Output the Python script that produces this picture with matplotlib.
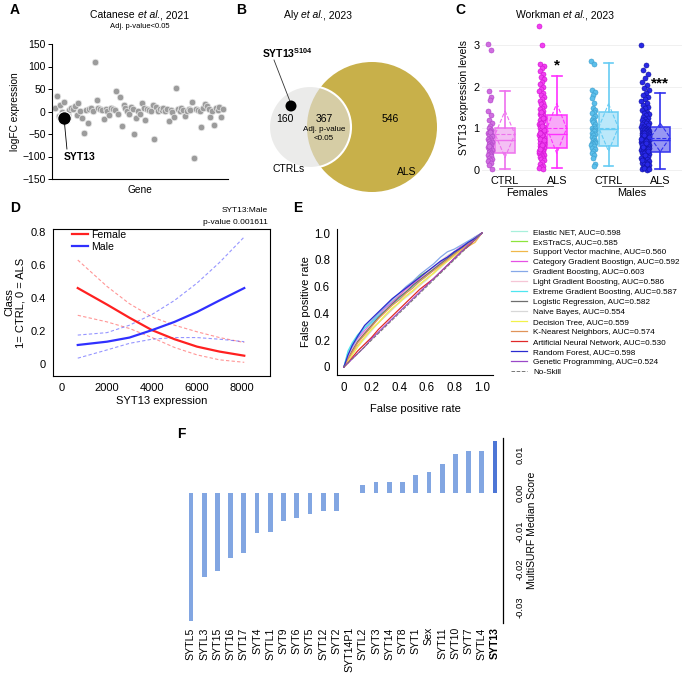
import numpy as np
import matplotlib
matplotlib.use('Agg')
import matplotlib.pyplot as plt
from matplotlib.patches import Circle
from matplotlib.lines import Line2D

plt.rcParams['font.family'] = ['Liberation Sans', 'DejaVu Sans']
plt.rcParams['mathtext.fontset'] = 'custom'
plt.rcParams['mathtext.rm'] = 'Liberation Sans'
plt.rcParams['mathtext.it'] = 'Liberation Sans:italic'
plt.rcParams['mathtext.bf'] = 'Liberation Sans:bold'

# ---------------- DATA ----------------
# Panel A: logFC per gene (Catanese et al.)
a_logfc = [7, 35, -10, 15, 0, 22, -5, -8, 3, 8, 5, 12, -8, 18, 2, -15, -48, 3, -25, 5,
           8, 2, 110, 25, 8, 5, 3, -17, 5, 2, -8, 8, 5, 3, 45, -5, 33, -32, 15, 8,
           2, -5, 10, 5, -49, -15, 2, -5, 20, 8, -18, 5, 3, 2, 15, -60, 10, 2, 5, 3,
           8, 2, 5, -20, 3, 0, -12, 52, 5, 2, 8, 3, -10, 2, 5, 3, 22, -104, 5, 3,
           2, -35, 8, 17, 12, 5, -12, 2, -31, 8, 3, 10, -12, 5]
a_syt13_idx = 5
a_syt13_val = -15

# Panel B: Venn counts (CTRL only, shared, ALS only)
venn_counts = [160, 367, 546]
venn_labels = ['CTRLs', 'ALS']

# Panel C: SYT13 expression levels
c_groups = ['CTRL', 'ALS', 'CTRL', 'ALS']
c_f_ctrl = [3.02, 2.87, 1.89, 1.76, 1.69, 1.41, 1.33, 1.21, 1.12, 1.05, 1.0, 0.97, 0.93, 0.9,
            0.87, 0.84, 0.81, 0.78, 0.75, 0.73, 0.7, 0.67, 0.65, 0.62, 0.6, 0.57, 0.55, 0.52,
            0.5, 0.48, 0.46, 0.43, 0.41, 0.39, 0.36, 0.33, 0.3, 0.27, 0.24, 0.21, 0.18, 0.13,
            0.03, 0.92, 0.58]
c_f_als = [3.45, 3.0, 2.55, 2.5, 2.45, 2.38, 2.3, 2.24, 2.18, 2.12, 2.06, 2.0, 1.95, 1.9, 1.85,
           1.8, 1.76, 1.71, 1.66, 1.62, 1.58, 1.54, 1.5, 1.46, 1.42, 1.38, 1.35, 1.32, 1.29,
           1.26, 1.23, 1.2, 1.17, 1.14, 1.11, 1.08, 1.06, 1.04, 1.02, 1.0, 0.98, 0.96, 0.94,
           0.92, 0.9, 0.88, 0.86, 0.84, 0.82, 0.8, 0.78, 0.76, 0.74, 0.72, 0.7, 0.68, 0.66,
           0.64, 0.62, 0.6, 0.58, 0.56, 0.54, 0.52, 0.5, 0.48, 0.46, 0.44, 0.42, 0.4, 0.38,
           0.36, 0.34, 0.32, 0.3, 0.27, 0.24, 0.2, 0.15, 0.1, 0.07, 0.05, 0.03, 1.12, 0.95,
           0.85, 0.75, 0.65, 0.55, 0.45, 1.05, 0.88, 0.71, 0.6, 0.5, 1.25, 1.4]
c_m_ctrl = [2.62, 2.55, 1.93, 1.87, 1.8, 1.72, 1.62, 1.5, 1.45, 1.4, 1.36, 1.3, 1.25, 1.2, 1.18,
            1.15, 1.1, 1.05, 1.02, 1.0, 0.97, 0.95, 0.93, 0.9, 0.87, 0.84, 0.8, 0.76, 0.72,
            0.7, 0.68, 0.66, 0.65, 0.62, 0.6, 0.57, 0.54, 0.5, 0.45, 0.4, 0.35, 0.3, 0.14, 0.1]
c_m_als = [3.0, 2.52, 2.4, 2.3, 2.2, 2.12, 2.05, 1.98, 1.92, 1.86, 1.8, 1.75, 1.7, 1.65, 1.6,
           1.56, 1.52, 1.48, 1.44, 1.4, 1.37, 1.34, 1.31, 1.28, 1.25, 1.22, 1.2, 1.18, 1.16,
           1.14, 1.12, 1.1, 1.08, 1.06, 1.04, 1.02, 1.0, 0.99, 0.98, 0.97, 0.96, 0.95, 0.94,
           0.93, 0.92, 0.91, 0.9, 0.89, 0.88, 0.87, 0.86, 0.85, 0.84, 0.83, 0.82, 0.81, 0.8,
           0.79, 0.78, 0.77, 0.76, 0.75, 0.74, 0.73, 0.72, 0.71, 0.7, 0.69, 0.68, 0.67, 0.66,
           0.65, 0.64, 0.63, 0.62, 0.61, 0.6, 0.59, 0.58, 0.57, 0.56, 0.55, 0.54, 0.53, 0.52,
           0.51, 0.5, 0.49, 0.48, 0.47, 0.46, 0.45, 0.44, 0.43, 0.42, 0.41, 0.4, 0.38, 0.36,
           0.34, 0.32, 0.3, 0.28, 0.26, 0.24, 0.22, 0.2, 0.18, 0.16, 0.14, 0.12, 0.1, 0.08,
           0.06, 0.04, 0.02, 0.01, 0.9, 0.8, 0.7, 0.6, 0.5, 0.85, 0.75, 0.65, 0.55, 0.45,
           0.35, 0.25, 0.15, 0.05, 0.03]
c_q1 = [0.42, 0.54, 0.58, 0.44]
c_med = [0.72, 0.86, 0.98, 0.72]
c_q3 = [1.02, 1.32, 1.40, 1.04]
c_wlo = [0.02, 0.04, 0.10, 0.02]
c_whi = [1.90, 2.26, 2.56, 1.84]
c_mean = [0.86, 1.00, 1.02, 0.78]
c_sd = [0.56, 0.60, 0.57, 0.34]
c_sig = ['', '*', '', '***']

# Panel D: logistic fit Class vs SYT13 expression
d_x = [700, 2000, 3000, 4000, 5000, 6000, 7000, 8100]
d_female = [0.46, 0.36, 0.28, 0.205, 0.15, 0.105, 0.075, 0.05]
d_female_hi = [0.63, 0.47, 0.365, 0.285, 0.235, 0.195, 0.16, 0.13]
d_female_lo = [0.295, 0.255, 0.215, 0.16, 0.10, 0.055, 0.025, 0.01]
d_male = [0.115, 0.135, 0.16, 0.205, 0.255, 0.315, 0.385, 0.46]
d_male_hi = [0.175, 0.19, 0.235, 0.30, 0.385, 0.49, 0.615, 0.77]
d_male_lo = [0.035, 0.085, 0.125, 0.15, 0.16, 0.16, 0.15, 0.135]

# Panel E: ROC curves
e_fpr = [0, .03, .06, .1, .15, .2, .25, .3, .35, .4, .45, .5, .55, .6, .65, .7, .75, .8, .85, .9, .95, 1.0]
e_models = ['Elastic NET, AUC=0.598', 'ExSTraCS, AUC=0.585', 'Support Vector machine, AUC=0.560',
            'Category Gradient Boostign, AUC=0.592', 'Gradient Boosting, AUC=0.603',
            'Light Gradient Boosting, AUC=0.586', 'Extreme Gradient Boosting, AUC=0.587',
            'Logistic Regression, AUC=0.582', 'Naive Bayes, AUC=0.554', 'Decision Tree, AUC=0.559',
            'K-Nearest Neighbors, AUC=0.574', 'Artificial Neural Network, AUC=0.530',
            'Random Forest, AUC=0.598', 'Genetic Programming, AUC=0.524']
e_tpr = [
    [0, .11, .17, .24, .30, .35, .39, .44, .49, .53, .58, .62, .66, .70, .74, .79, .83, .86, .90, .93, .97, 1.0],
    [0, .06, .12, .19, .26, .32, .37, .43, .48, .53, .58, .63, .68, .71, .74, .78, .82, .85, .88, .92, .96, 1.0],
    [0, .05, .10, .16, .22, .28, .33, .38, .43, .48, .53, .57, .61, .66, .70, .75, .79, .83, .87, .90, .93, 1.0],
    [0, .08, .14, .21, .27, .33, .38, .44, .48, .53, .58, .62, .66, .70, .74, .78, .82, .86, .90, .93, .97, 1.0],
    [0, .09, .15, .22, .29, .34, .40, .45, .50, .55, .60, .64, .69, .73, .77, .82, .86, .88, .91, .94, .97, 1.0],
    [0, .07, .13, .20, .26, .32, .37, .43, .47, .52, .57, .61, .65, .70, .74, .79, .83, .86, .89, .92, .96, 1.0],
    [0, .12, .18, .24, .29, .33, .38, .42, .47, .51, .56, .60, .64, .68, .73, .77, .81, .85, .89, .93, .96, 1.0],
    [0, .06, .12, .19, .25, .31, .37, .42, .47, .52, .56, .61, .65, .69, .73, .77, .81, .85, .89, .92, .96, 1.0],
    [0, .05, .09, .15, .21, .27, .33, .38, .43, .48, .52, .56, .61, .65, .70, .74, .79, .83, .87, .91, .95, 1.0],
    [0, .04, .09, .15, .22, .28, .33, .39, .44, .48, .53, .57, .62, .66, .70, .75, .79, .83, .87, .91, .95, 1.0],
    [0, .06, .11, .18, .24, .30, .36, .41, .46, .50, .55, .59, .64, .68, .72, .76, .80, .84, .88, .92, .96, 1.0],
    [0, .03, .07, .12, .17, .22, .28, .33, .38, .43, .48, .53, .58, .62, .66, .71, .76, .81, .86, .90, .95, 1.0],
    [0, .09, .16, .23, .31, .36, .41, .46, .51, .55, .59, .63, .67, .71, .75, .79, .82, .86, .89, .93, .96, 1.0],
    [0, .03, .06, .10, .15, .21, .26, .31, .36, .41, .46, .51, .56, .61, .66, .71, .76, .81, .86, .91, .95, 1.0],
]
e_colors = ['#a8f0dc', '#8ce63c', '#f0b84a', '#e650e6', '#86a8e8', '#f5c6d6', '#4ee6f0',
            '#6e6e6e', '#d8d8d8', '#f2f24a', '#e0945a', '#e02828', '#2a2ad0', '#9a48c8']

# Panel F: MultiSURF median scores
f_features = ['SYTL5', 'SYTL3', 'SYT15', 'SYT16', 'SYT17', 'SYT4', 'SYTL1', 'SYT9', 'SYT6', 'SYT5',
              'SYT12', 'SYT2', 'SYT14P1', 'SYTL2', 'SYT3', 'SYT14', 'SYT8', 'SYT1', 'Sex', 'SYT11',
              'SYT10', 'SYT7', 'SYTL4', 'SYT13']
f_scores = [-0.0334, -0.0219, -0.0205, -0.0171, -0.0157, -0.0104, -0.0102, -0.0073, -0.0067, -0.0055,
            -0.0048, -0.0048, 0.0, 0.0019, 0.0029, 0.0029, 0.0029, 0.0047, 0.0053, 0.0075,
            0.0102, 0.0108, 0.0108, 0.0134]

# ---------------- LAYOUT HELPERS ----------------
W, H = 685, 675
fig = plt.figure(figsize=(6.85, 6.75), dpi=100)
renderer = fig.canvas.get_renderer()


def fx(p):
    return p / W


def fy(p):
    return 1 - p / H


def rect(x0, y0, x1, y1):
    return [fx(x0), fy(y1), fx(x1) - fx(x0), fy(y0) - fy(y1)]


def ftext(x, y, s, **kw):
    kw.setdefault('ha', 'center')
    kw.setdefault('va', 'center')
    return fig.text(fx(x), fy(y), s, **kw)


def mixed_title(xc, y, parts, fontsize):
    """Draw text pieces (text, style) side by side, centred at pixel xc."""
    widths = []
    for s, st in parts:
        t = fig.text(0, 0, s.replace(' ', '\u00a0'), fontsize=fontsize, style=st)
        widths.append(t.get_window_extent(renderer).width)
        t.remove()
    x = xc - sum(widths) / 2
    for (s, st), w in zip(parts, widths):
        ftext(x, y, s.replace(' ', '\u00a0'), fontsize=fontsize, style=st, ha='left')
        x += w


for lab, (x, y) in zip('ABCDEF', [(10, 10), (236, 10), (455, 10), (10, 208), (293, 208), (177, 434)]):
    ftext(x, y, lab, fontsize=10, fontweight='bold', ha='left')

# ---------------- PANEL A ----------------
axA = fig.add_axes(rect(52, 44, 228, 179))
n = len(a_logfc)
ppi = 168 / (n - 1)
axA.scatter(np.arange(n), a_logfc, s=22, c='#9c9c9c', edgecolors='#e8e8e8', linewidths=0.5, zorder=2)
axA.scatter([a_syt13_idx], [a_syt13_val], s=95, c='black', edgecolors='white', linewidths=0.8, zorder=3)
axA.annotate('SYT13', xy=(a_syt13_idx, a_syt13_val), xytext=(5, -101), fontsize=7.5,
             fontweight='bold', ha='left', va='center',
             arrowprops=dict(arrowstyle='-', lw=0.6, color='black', relpos=(0.1, 1.0), shrinkA=0, shrinkB=3))
axA.set_xlim(-3 / ppi, 173 / ppi)
axA.set_ylim(-150, 150)
axA.set_yticks(np.arange(-150, 151, 50))
axA.set_xticks([])
axA.tick_params(axis='y', labelsize=7.5, length=3, width=0.7, pad=1.5)
for s in ['top', 'right']:
    axA.spines[s].set_visible(False)
for s in ['left', 'bottom']:
    axA.spines[s].set_linewidth(0.8)
axA.set_ylabel('logFC expression', fontsize=7.3, labelpad=2)
axA.set_xlabel('Gene', fontsize=7.3, labelpad=4)
mixed_title(140, 15, [('Catanese ', 'normal'), ('et al.', 'italic'), (', 2021', 'normal')], 7.5)
ftext(140, 27, 'Adj. p-value<0.05', fontsize=5.5)

# ---------------- PANEL B ----------------
axB = fig.add_axes(rect(236, 0, 455, 200))
axB.set_xlim(236, 455)
axB.set_ylim(200, 0)
axB.axis('off')
axB.add_patch(Circle((372, 127), 65, facecolor='#c8b04a', edgecolor='none', zorder=1))
axB.add_patch(Circle((310, 127), 41, facecolor=(0.875, 0.875, 0.87, 0.62), edgecolor='white', lw=1.5, zorder=2))
axB.text(285, 119, str(venn_counts[0]), fontsize=7.5, ha='center', va='center', zorder=3)
axB.text(324, 119, str(venn_counts[1]), fontsize=7.5, ha='center', va='center', zorder=3)
axB.text(324, 129.5, 'Adj. p-value', fontsize=5.8, ha='center', va='center', zorder=3)
axB.text(324, 138.5, '<0.05', fontsize=5.8, ha='center', va='center', zorder=3)
axB.text(390, 119, str(venn_counts[2]), fontsize=7.5, ha='center', va='center', zorder=3)
axB.text(289, 169, venn_labels[0], fontsize=7.5, ha='center', va='center', zorder=3)
axB.text(407, 172, venn_labels[1], fontsize=7.5, ha='center', va='center', zorder=3)
axB.add_patch(Circle((291, 106), 5.5, facecolor='black', edgecolor='none', zorder=4))
axB.plot([291, 274], [104, 60], color='#333333', lw=0.6, zorder=3)
axB.text(287, 53, r'$\mathbf{SYT13}^{\mathbf{S104}}$', fontsize=7.5, ha='center', va='center', zorder=3)
mixed_title(318, 15, [('Aly ', 'normal'), ('et al.', 'italic'), (', 2023', 'normal')], 7.5)

# ---------------- PANEL C ----------------
axC = fig.add_axes(rect(482, 20, 682, 175))
pos = [0, 1, 2, 3]
c_data = [c_f_ctrl, c_f_als, c_m_ctrl, c_m_als]
pt_face = ['#d06ee0', '#f040f0', '#5cbfea', '#2828e6']
pt_edge = ['#b040c8', '#d010d0', '#3a9ccc', '#1010a0']
box_face = ['#f3b8f3', '#f8a0f8', '#b4e6fa', '#8c8cf2']
box_edge = ['#ee70ee', '#ff30ff', '#66ccf4', '#3030ee']
jit_w = [0.08, 0.10, 0.08, 0.16]
for i, vals in enumerate(c_data):
    m = len(vals)
    offs = ((np.arange(m) * 0.6180339) % 1 - 0.5) * jit_w[i]
    axC.scatter(pos[i] - 0.29 + offs, vals, s=13, c=pt_face[i], edgecolors=pt_edge[i],
                linewidths=0.4, zorder=3)
stats = []
for i in range(4):
    stats.append(dict(q1=c_q1[i], med=c_med[i], q3=c_q3[i], whislo=c_wlo[i], whishi=c_whi[i],
                      mean=c_mean[i], fliers=[]))
bp = axC.bxp(stats, positions=pos, widths=0.38, patch_artist=True, showfliers=False,
             showmeans=False, manage_ticks=False)
bw = 0.19
for i in range(4):
    bp['boxes'][i].set(facecolor=box_face[i], edgecolor=box_edge[i], linewidth=1.2, alpha=0.9, zorder=2)
    bp['medians'][i].set(color=box_edge[i], linewidth=1.0, zorder=4)
    for k in (2 * i, 2 * i + 1):
        bp['whiskers'][k].set(color=box_edge[i], linewidth=1.2)
        bp['caps'][k].set(color=box_edge[i], linewidth=1.2)
    axC.plot([pos[i] - bw, pos[i] + bw], [c_mean[i], c_mean[i]], ls='--', lw=0.8, color=box_edge[i], zorder=4)
    dx = [pos[i], pos[i] + bw, pos[i], pos[i] - bw, pos[i]]
    dy = [c_mean[i] + c_sd[i], c_mean[i], c_mean[i] - c_sd[i], c_mean[i], c_mean[i] + c_sd[i]]
    axC.plot(dx, dy, ls='--', lw=0.8, color=box_edge[i], zorder=4)
    if c_sig[i]:
        axC.text(pos[i], c_whi[i] + 0.08, c_sig[i], fontsize=11, fontweight='bold', ha='center', va='bottom')
axC.set_xlim(-0.445, 3.42)
axC.set_ylim(-0.12, 3.6)
axC.set_yticks([0, 1, 2, 3])
axC.set_xticks(pos)
axC.set_xticklabels(c_groups)
axC.tick_params(axis='both', length=0, labelsize=7.8)
axC.tick_params(axis='x', pad=1)
axC.tick_params(axis='y', pad=2)
axC.grid(axis='y', color='#eeeeee', lw=0.6, zorder=0)
axC.set_axisbelow(True)
for s in axC.spines.values():
    s.set_visible(False)
axC.set_ylabel('SYT13 expression levels', fontsize=7.5, labelpad=3)
mixed_title(565, 15, [('Workman ', 'normal'), ('et al.', 'italic'), (', 2023', 'normal')], 7.5)
ftext(527, 193, 'Females', fontsize=7.8)
ftext(632, 193, 'Males', fontsize=7.8)
fig.add_artist(Line2D([fx(500), fx(553)], [fy(186), fy(186)], color='#555555', lw=0.7))
fig.add_artist(Line2D([fx(602), fx(663)], [fy(186), fy(186)], color='#555555', lw=0.7))

# ---------------- PANEL D ----------------
axD = fig.add_axes(rect(53, 229, 270, 376))
axD.plot(d_x, d_female, color='#ff2020', lw=1.6, label='Female', zorder=3)
axD.plot(d_x, d_male, color='#3030ff', lw=1.6, label='Male', zorder=3)
for yv in (d_female_hi, d_female_lo):
    axD.plot(d_x, yv, color='#ff4040', lw=0.8, ls=(0, (3, 2)), alpha=0.55)
for yv in (d_male_hi, d_male_lo):
    axD.plot(d_x, yv, color='#4040ff', lw=0.8, ls=(0, (3, 2)), alpha=0.55)
axD.set_xlim(-400, 9244)
axD.set_ylim(-0.073, 0.818)
axD.set_xticks([0, 2000, 4000, 6000, 8000])
axD.set_yticks([0, 0.2, 0.4, 0.6, 0.8])
axD.set_yticklabels(['0', '0.2', '0.4', '0.6', '0.8'])
axD.tick_params(length=0, labelsize=8, pad=5)
for s in axD.spines.values():
    s.set_linewidth(0.8)
axD.set_xlabel('SYT13 expression', fontsize=8, labelpad=2)
axD.set_ylabel('Class\n1= CTRL, 0 = ALS', fontsize=8, labelpad=4, linespacing=1.1)
axD.legend(loc='upper left', bbox_to_anchor=(fx(72), fy(230)), bbox_transform=fig.transFigure,
           frameon=False, fontsize=7.6, handlelength=1.5, handletextpad=0.3, labelspacing=0.2,
           borderpad=0, borderaxespad=0)
ftext(268, 210, 'SYT13:Male', fontsize=6, ha='right')
ftext(268, 222, 'p-value 0.001611', fontsize=6, ha='right')

# ---------------- PANEL E ----------------
axE = fig.add_axes(rect(337, 229, 493, 375))
for lab, tpr, col in zip(e_models, e_tpr, e_colors):
    axE.plot(e_fpr, tpr, color=col, lw=0.9, label=lab)
axE.plot([0, 1], [0, 1], color='#777777', lw=0.7, ls='--', label='No-Skill')
axE.set_xlim(-0.05, 1.08)
axE.set_ylim(-0.06, 1.03)
ticks = [0, 0.2, 0.4, 0.6, 0.8, 1.0]
tl = ['0', '0.2', '0.4', '0.6', '0.8', '1.0']
axE.set_xticks(ticks)
axE.set_xticklabels(tl)
axE.set_yticks(ticks)
axE.set_yticklabels(tl)
axE.tick_params(length=0, labelsize=8.3, pad=5)
for s in ['top', 'right']:
    axE.spines[s].set_visible(False)
for s in ['left', 'bottom']:
    axE.spines[s].set_linewidth(0.8)
axE.set_xlabel('False positive rate', fontsize=8, labelpad=7)
axE.set_ylabel('False positive rate', fontsize=8, labelpad=2)
axE.legend(loc='upper left', bbox_to_anchor=(fx(511), fy(228)), bbox_transform=fig.transFigure,
           frameon=False, fontsize=5.9, handlelength=2.0, handletextpad=0.7, labelspacing=0.28,
           borderpad=0, borderaxespad=0)

# ---------------- PANEL F ----------------
axF = fig.add_axes(rect(183, 438, 503, 623))
fx_pos = np.arange(len(f_features))
f_cols = ['#82a6e2'] * (len(f_features) - 1) + ['#4d76d6']
axF.bar(fx_pos, f_scores, width=0.36, color=f_cols, edgecolor='none')
axF.set_xlim(-0.6, len(f_features) - 0.4)
axF.set_ylim(-0.034, 0.0143)
axF.yaxis.tick_right()
axF.yaxis.set_label_position('right')
axF.set_yticks([-0.03, -0.02, -0.01, 0.0, 0.01])
axF.set_yticklabels(['-0.03', '-0.02', '-0.01', '0.00', '0.01'], rotation=90, va='center')
axF.set_xticks(fx_pos)
axF.set_xticklabels(f_features, rotation=90)
axF.get_xticklabels()[-1].set_fontweight('bold')
axF.tick_params(axis='x', length=0, labelsize=7.6, pad=3)
axF.tick_params(axis='y', length=0, labelsize=6.8, pad=9)
for s in ['top', 'left', 'bottom']:
    axF.spines[s].set_visible(False)
axF.spines['right'].set_linewidth(0.9)
axF.set_ylabel('MultiSURF Median Score', fontsize=7.5, labelpad=2, rotation=90)

fig.savefig('out.png', dpi=100)
